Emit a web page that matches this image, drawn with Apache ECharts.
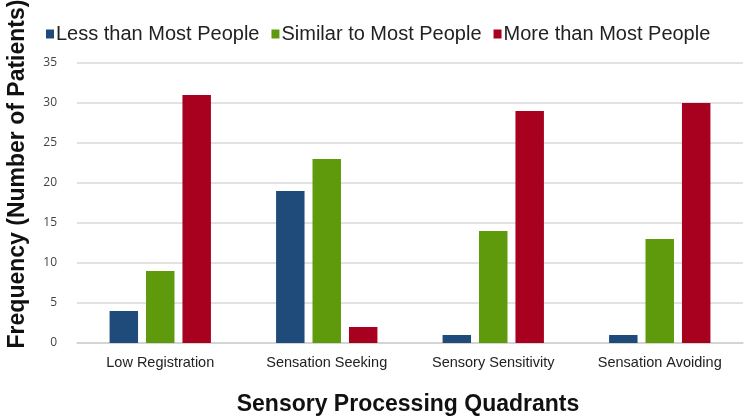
<!DOCTYPE html>
<html><head><meta charset="utf-8">
<script src="https://cdn.jsdelivr.net/npm/echarts@6/dist/echarts.min.js"></script>
<style>html,body{margin:0;padding:0;background:#fff}#c{width:750px;height:420px}</style>
</head><body><div id="c"></div>
<script>
var categories = ['Low Registration', 'Sensation Seeking', 'Sensory Sensitivity', 'Sensation Avoiding'];
var seriesNames = ['Less than Most People', 'Similar to Most People', 'More than Most People'];
var lessValues = [4, 19, 1, 1];
var similarValues = [9, 23, 14, 13];
var moreValues = [31, 2, 29, 30];
var yTicks = [0, 5, 10, 15, 20, 25, 30, 35];
var colors = ['#1F4B7B', '#5F9A0C', '#A8001F'];

var chart = echarts.init(document.getElementById('c'), null, {renderer: 'canvas'});
function bar(name, data, color) {
  return {name: name, type: 'bar', data: data, barWidth: '17.1%', barGap: '28%',
    itemStyle: {color: color}};
}
chart.setOption({
  animation: false,
  color: colors,
  legend: {
    top: 19, left: 41, itemWidth: 8, itemHeight: 9, itemGap: 12, icon: 'rect',
    textStyle: {fontFamily: 'Liberation Sans', fontSize: 20, color: '#222', padding: [0, 0, 0, -3]},
    data: seriesNames
  },
  grid: {left: 77, right: 7, top: 63, bottom: 77, containLabel: false},
  xAxis: {
    type: 'category', data: categories,
    axisLine: {lineStyle: {color: '#d0d0d0', width: 1.5}},
    axisTick: {show: false},
    axisLabel: {fontFamily: 'Liberation Sans', fontSize: 14.5, color: '#222', margin: 12, interval: 0}
  },
  yAxis: {
    type: 'value', min: yTicks[0], max: yTicks[yTicks.length - 1], interval: 5,
    axisLine: {show: false}, axisTick: {show: false},
    axisLabel: {fontFamily: 'Open Sans', fontSize: 12, color: '#444', margin: 20},
    splitLine: {lineStyle: {color: '#d9d9d9', width: 1.5}}
  },
  graphic: [
    {type: 'text', x: 18, y: 174, rotation: Math.PI / 2,
      style: {text: 'Frequency (Number of Patients)', font: 'bold 23px "Liberation Sans"', fill: '#111',
        textAlign: 'center', textVerticalAlign: 'middle'}},
    {type: 'text', x: 408, y: 405,
      style: {text: 'Sensory Processing Quadrants', font: 'bold 23px "Liberation Sans"', fill: '#111',
        textAlign: 'center', textVerticalAlign: 'middle'}}
  ],
  series: [
    bar(seriesNames[0], lessValues, colors[0]),
    bar(seriesNames[1], similarValues, colors[1]),
    bar(seriesNames[2], moreValues, colors[2])
  ]
});
</script></body></html>
